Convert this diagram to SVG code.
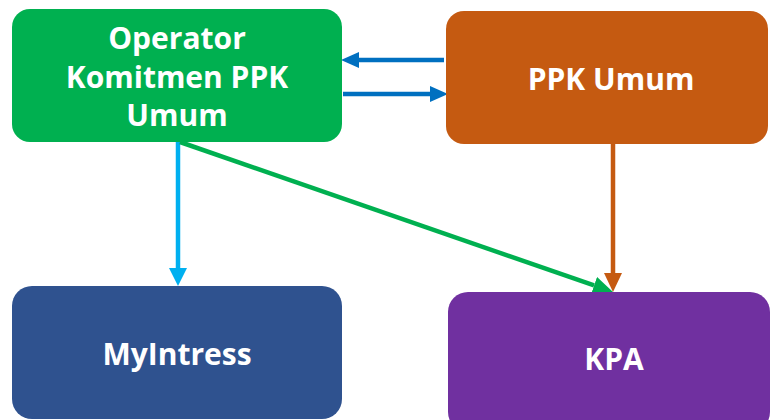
<svg xmlns="http://www.w3.org/2000/svg" width="770" height="420" viewBox="0 0 770 420">
<defs>
<style>
.lbl{font-family:"Open Sans","Noto Sans","Liberation Sans",sans-serif;font-weight:bold;font-size:30px;fill:#fff;text-anchor:middle}
.c{fill:none;stroke-width:4.5}
</style>
<marker id="hBlue" viewBox="0 0 18 16" refX="0" refY="8" markerWidth="18" markerHeight="16" markerUnits="userSpaceOnUse" orient="auto"><path d="M0,0 L18,8 L0,16 z" fill="#0070C0"/></marker>
<marker id="hCyan" viewBox="0 0 18 18" refX="0" refY="9" markerWidth="18" markerHeight="18" markerUnits="userSpaceOnUse" orient="auto"><path d="M0,0 L18,9 L0,18 z" fill="#00B0F0"/></marker>
<marker id="hOrange" viewBox="0 0 19 18" refX="0" refY="9" markerWidth="19" markerHeight="18" markerUnits="userSpaceOnUse" orient="auto"><path d="M0,0 L19,9 L0,18 z" fill="#C55A11"/></marker>
<marker id="hGreen" viewBox="0 0 20 18" refX="0" refY="9" markerWidth="20" markerHeight="18" markerUnits="userSpaceOnUse" orient="auto"><path d="M0,0 L20,9 L0,18 z" fill="#00B050"/></marker>
</defs>
<rect width="770" height="420" fill="#fff"/>
<g id="connectors">
<line class="c" x1="444" y1="60" x2="359" y2="60" stroke="#0070C0" marker-end="url(#hBlue)"/>
<line class="c" x1="343" y1="94" x2="430" y2="94" stroke="#0070C0" marker-end="url(#hBlue)"/>
<line class="c" x1="178" y1="142" x2="178" y2="268" stroke="#00B0F0" marker-end="url(#hCyan)"/>
<line class="c" x1="613" y1="144" x2="613" y2="273" stroke="#C55A11" marker-end="url(#hOrange)"/>
<line class="c" x1="180" y1="142" x2="594.1" y2="285.45" stroke="#00B050" stroke-width="5" marker-end="url(#hGreen)"/>
</g>
<g id="operator">
<rect x="12" y="9" width="330" height="133" rx="18" fill="#00B050"/>
<text class="lbl" x="177" y="49">Operator</text>
<text class="lbl" x="177" y="88">Komitmen PPK</text>
<text class="lbl" x="177" y="126">Umum</text>
</g>
<g id="ppk">
<rect x="446" y="11" width="322" height="133" rx="18" fill="#C55A11"/>
<text class="lbl" x="611" y="90">PPK Umum</text>
</g>
<g id="myintress">
<rect x="12" y="286" width="330" height="133" rx="20" fill="#2F528F"/>
<text class="lbl" x="177" y="365">MyIntress</text>
</g>
<g id="kpa">
<rect x="448" y="292" width="322" height="140" rx="20" fill="#7030A0"/>
<text class="lbl" x="614" y="370">KPA</text>
</g>
</svg>
